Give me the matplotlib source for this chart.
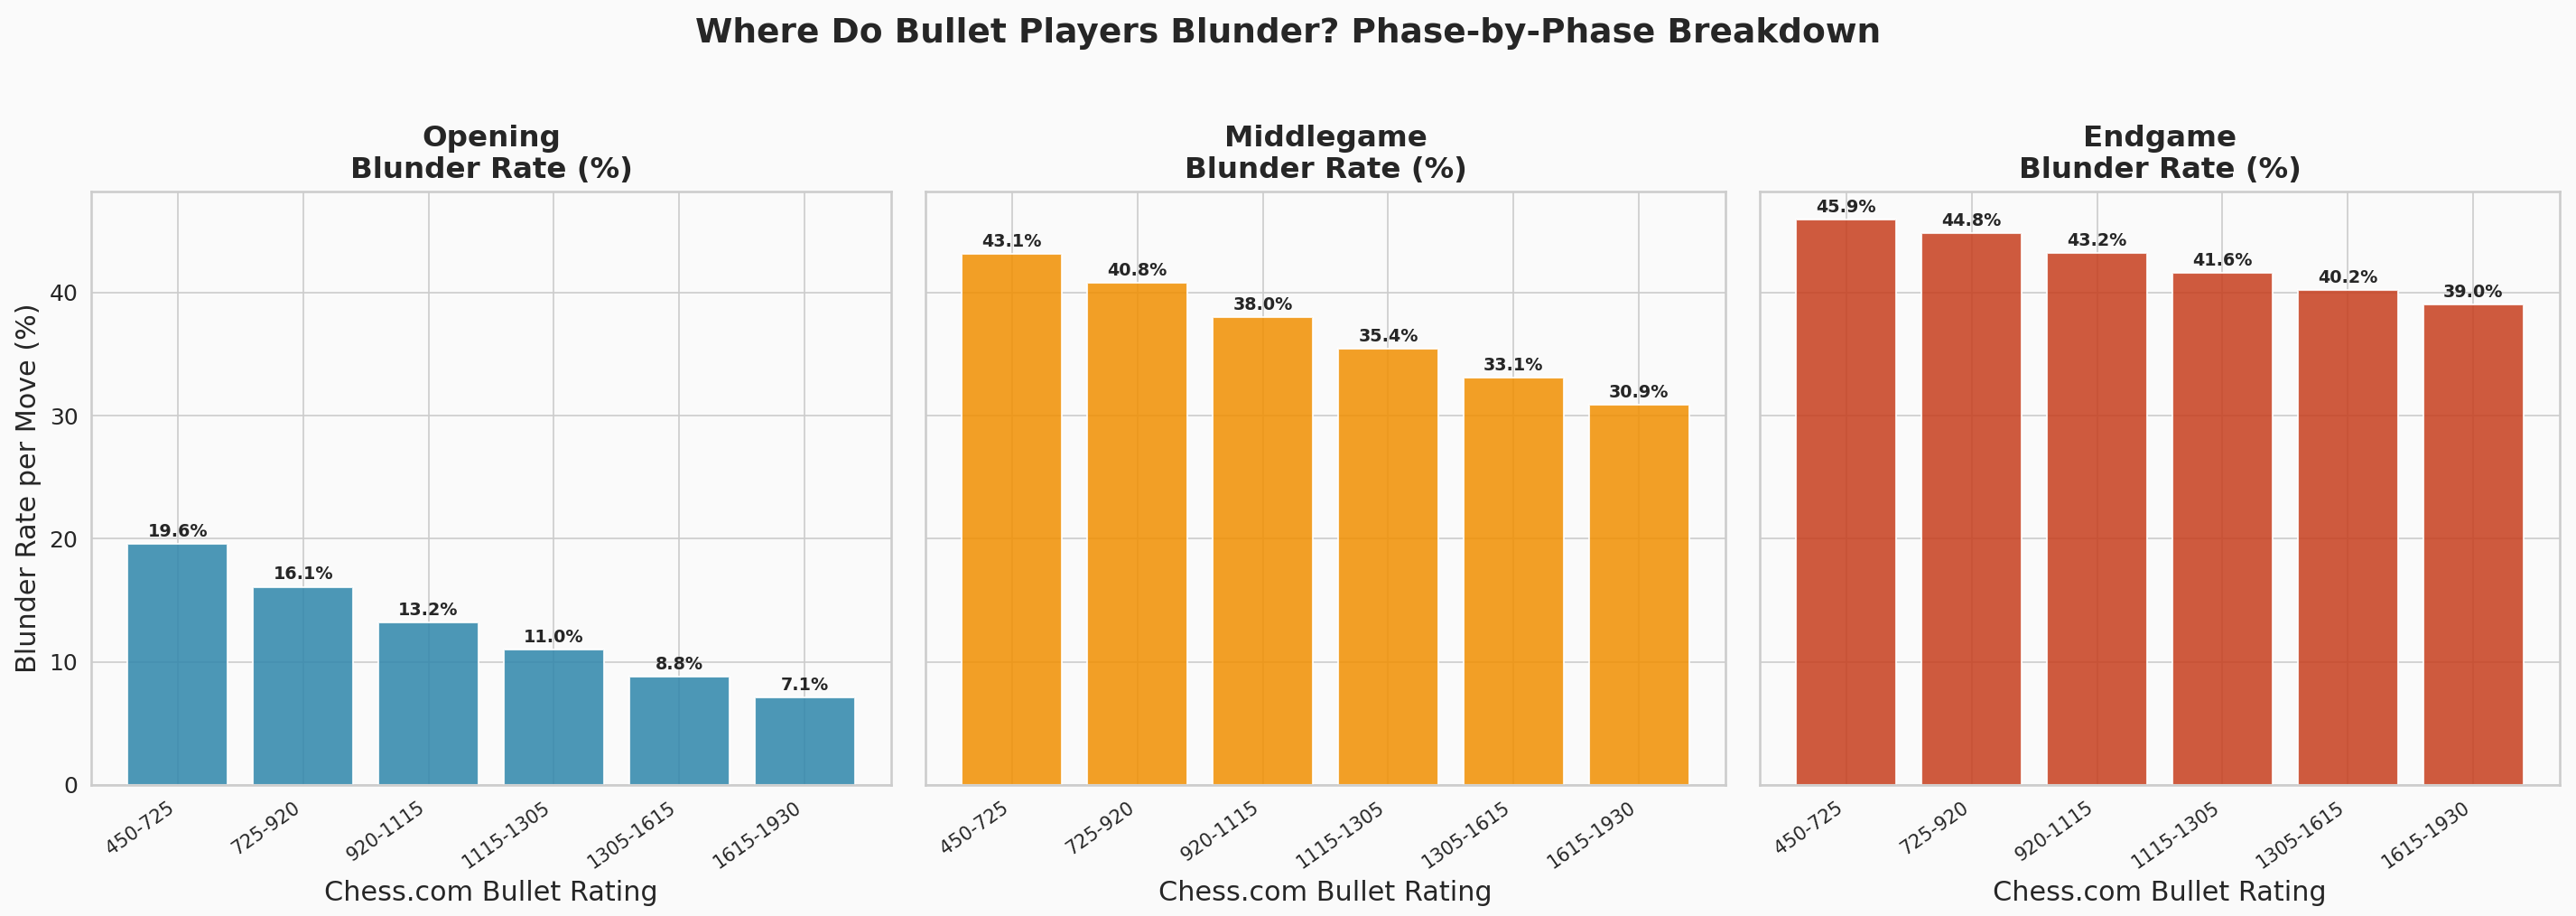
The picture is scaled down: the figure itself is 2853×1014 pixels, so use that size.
import numpy as np
import matplotlib
matplotlib.use("Agg")
import matplotlib.pyplot as plt
import seaborn as sns

# --- Data
rating_bins = ['450-725', '725-920', '920-1115', '1115-1305', '1305-1615', '1615-1930']
phases = ['Opening', 'Middlegame', 'Endgame']
opening_rate = [19.6, 16.1, 13.2, 11.0, 8.8, 7.1]
middlegame_rate = [43.1, 40.8, 38.0, 35.4, 33.1, 30.9]
endgame_rate = [45.9, 44.8, 43.2, 41.6, 40.2, 39.0]
phase_colors = ['#2E86AB', '#F18F01', '#C73E1D']

# --- Style
sns.set_style("whitegrid", {"axes.facecolor": "#fafafa", "figure.facecolor": "#fafafa",
                            "grid.color": ".8", "axes.edgecolor": ".8"})
plt.rcParams['font.family'] = ['DejaVu Sans']

fig, axes = plt.subplots(1, 3, figsize=(19.02, 6.76), dpi=150, sharey=True)
fig.patch.set_facecolor('#fafafa')

all_rates = [opening_rate, middlegame_rate, endgame_rate]
ymax = max(max(r) for r in all_rates) * 1.05

for ax, phase, rates, color in zip(axes, phases, all_rates, phase_colors):
    x = np.arange(len(rating_bins))
    bars = ax.bar(x, rates, width=0.8, color=color, alpha=0.85)
    for b, v in zip(bars, rates):
        ax.text(b.get_x() + b.get_width() / 2, v + 0.3, f"{v:.1f}%",
                ha='center', va='bottom', fontsize=9.2, fontweight='bold', color='#262626')
    ax.set_title(f"{phase}\nBlunder Rate (%)", fontsize=15.6, fontweight='bold',
                 color='#262626', pad=7)
    ax.set_xticks(x)
    ax.set_xticklabels(rating_bins, rotation=35, ha='right', fontsize=10)
    ax.set_xlabel("Chess.com Bullet Rating", fontsize=14.5)
    ax.tick_params(axis='y', labelsize=12)
    ax.set_ylim(0, ymax)
    for s in ax.spines.values():
        s.set_linewidth(1.25)

axes[0].set_ylabel("Blunder Rate per Move (%)", fontsize=14.5)

fig.suptitle("Where Do Bullet Players Blunder? Phase-by-Phase Breakdown",
             fontsize=18, fontweight='bold', color='#262626', y=0.9536, va='baseline')

plt.subplots_adjust(left=0.0354, right=0.9937, top=0.7909, bottom=0.143, wspace=0.0429)
plt.savefig("out.png", dpi=150, facecolor=fig.get_facecolor())
